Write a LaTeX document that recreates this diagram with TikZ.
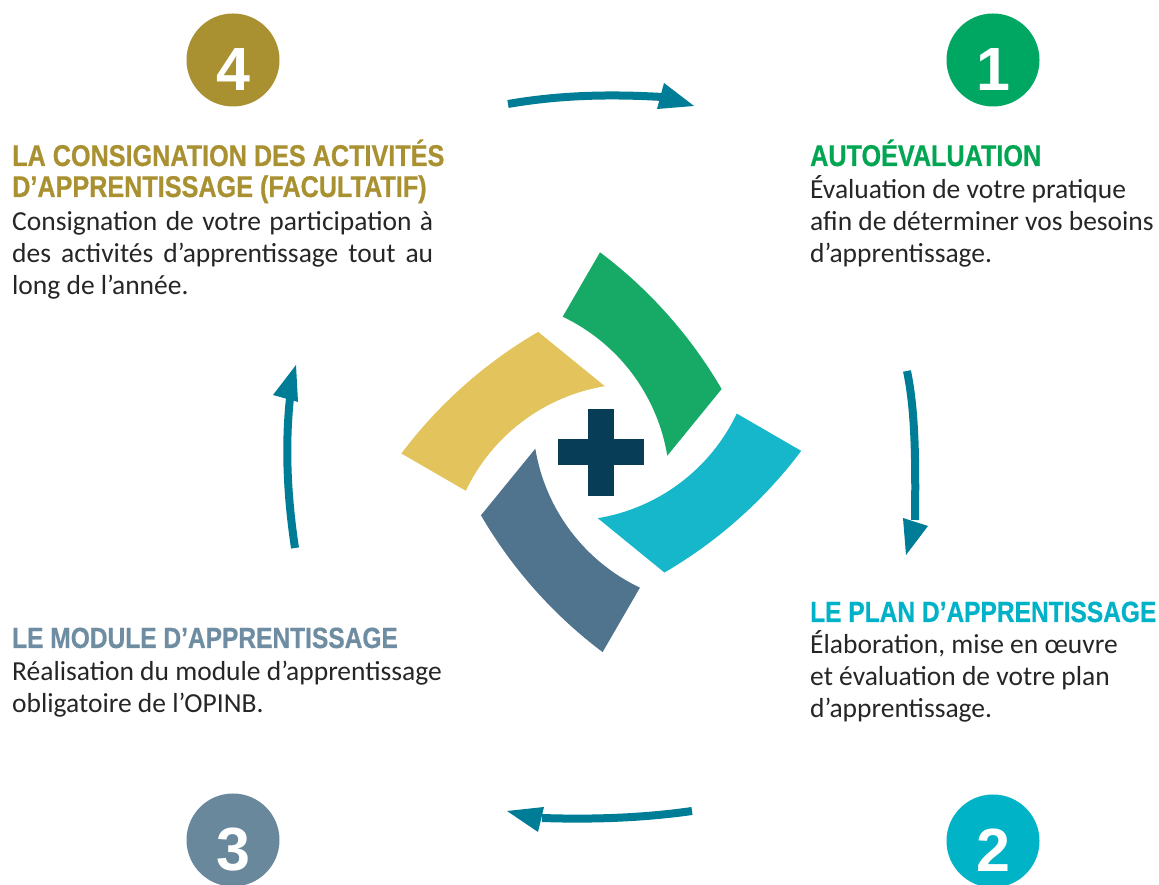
\documentclass[tikz,border=0pt]{standalone}
\usepackage{fontspec}
\setmainfont{Carlito}
\newfontfamily\headfont[FakeStretch=0.84,FakeBold=0.6]{Liberation Sans}
\newfontfamily\numfont{Liberation Sans}
\definecolor{gold}{HTML}{A99131}
\definecolor{stepgreen}{HTML}{00A762}
\definecolor{stepteal}{HTML}{00B3C6}
\definecolor{stepslate}{HTML}{6A889C}
\definecolor{headgreen}{HTML}{00A651}
\definecolor{headteal}{HTML}{00B2C8}
\definecolor{headslate}{HTML}{6E8DA2}
\definecolor{bodygray}{HTML}{262626}
\definecolor{arrowteal}{HTML}{007D96}
\definecolor{bandgreen}{HTML}{17AA66}
\definecolor{bandteal}{HTML}{16B7CA}
\definecolor{bandslate}{HTML}{50738E}
\definecolor{bandgold}{HTML}{E2C35C}
\definecolor{plusblue}{HTML}{083D57}

\begin{document}
\begin{tikzpicture}[x=1pt,y=1pt,
    head/.style={anchor=base west,align=left,font=\headfont\bfseries\fontsize{30}{31}\selectfont},
    subhead/.style={head,font=\headfont\bfseries\fontsize{29.2}{31}\selectfont},
    body/.style={anchor=base west,align=left,text=bodygray,font=\fontsize{27.5}{32}\selectfont},
    stepdot/.style={circle,minimum size=93pt,text=white,text height=62pt,text depth=0pt,
        font=\numfont\bfseries\fontsize{61}{61}\selectfont},
    link/.style={draw=arrowteal,line width=8pt}]
    \tikzstyle{every node}+=[inner sep=0pt]
    \fill[white] (0,0) rectangle (1159,885);
    \useasboundingbox (0,0) rectangle (1159,885);
    % numbered steps
    \node[stepdot,fill=gold] (s4) at (233,825) {4};
    \node[stepdot,fill=stepgreen] (s1) at (993,825) {1};
    \node[stepdot,fill=stepteal] (s2) at (993,44) {2};
    \node[stepdot,fill=stepslate] (s3) at (233,45) {3};
    % texts (base = last line)
    \node[head,text=gold] (h4) at (12,688) {LA CONSIGNATION DES ACTIVITÉS\\D’APPRENTISSAGE (FACULTATIF)};
    \node[body] (b4) at (12,590) {\makebox[421pt][s]{Consignation de votre participation à}\\
        \makebox[421pt][s]{des activités d’apprentissage tout au}\\long de l’année.};
    \node[head,text=headgreen] (h1) at (810,719) {AUTOÉVALUATION};
    \node[body] (b1) at (810,622) {Évaluation de votre pratique\\afin de déterminer vos besoins\\d’apprentissage.};
    \node[subhead,text=headteal] (h2) at (810,263) {LE PLAN D’APPRENTISSAGE};
    \node[body] (b2) at (810,167) {Élaboration, mise en œuvre\\et évaluation de votre plan\\d’apprentissage.};
    \node[subhead,text=headslate] (h3) at (12,237) {LE MODULE D’APPRENTISSAGE};
    \node[body] (b3) at (12,172) {Réalisation du module d’apprentissage\\obligatoire de l’OPINB.};
    % logo
    \coordinate (hub) at (601.3,432.8);
    \foreach \ang/\col in {0/bandgreen,-90/bandteal,-180/bandslate,90/bandgold}
        \fill[\col,rotate around={\ang:(hub)}] (600,632.7) arc[start angle=53.06,end angle=30.24,radius=462.6]
            -- (667.3,429.3) arc[start angle=9.38,end angle=64.56,radius=187.8] -- cycle;
    \fill[plusblue] (558.3,420) rectangle (644.3,445.7);
    \fill[plusblue] (588.3,389) rectangle (614.3,475.7);
    % arrows
    \coordinate (t0) at (508,781);
    \coordinate (t1) at (662,788);
    \draw[link] (t0) .. controls (560,790) and (610,791) .. (t1);
    \fill[arrowteal] (664,802) -- (694,779) -- (657,776) -- cycle;
    \coordinate (r0) at (907,514);
    \coordinate (r1) at (915,365);
    \draw[link] (r0) .. controls (914,480) and (916,440) .. (r1);
    \fill[arrowteal] (903,367) -- (906,330) -- (928,359) -- cycle;
    \coordinate (d0) at (692,74);
    \coordinate (d1) at (542,67);
    \draw[link] (d0) .. controls (650,68) and (600,65) .. (d1);
    \fill[arrowteal] (544,78) -- (507,74) -- (538,53) -- cycle;
    \coordinate (l0) at (295,337);
    \coordinate (l1) at (290,487);
    \draw[link] (l0) .. controls (287,390) and (285,440) .. (l1);
    \fill[arrowteal] (273,490) -- (296,520) -- (298,483) -- cycle;
\end{tikzpicture}
\end{document}
